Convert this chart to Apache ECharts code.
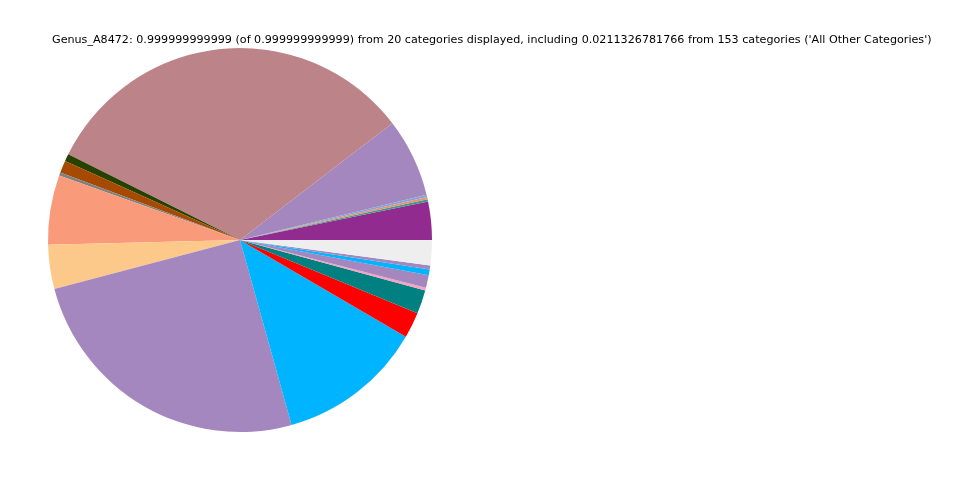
<!DOCTYPE html>
<html>
<head>
<meta charset="utf-8">
<script src="https://cdn.jsdelivr.net/npm/echarts@6/dist/echarts.min.js"></script>
<style>html,body{margin:0;padding:0;background:#fff}#c{width:960px;height:480px}</style>
</head>
<body>
<div id="c"></div>
<script>
const categories = ['Cat_01','Cat_02','Cat_03','Cat_04','Cat_05','Cat_06','Cat_07','Cat_08','Cat_09','Cat_10',
  'Cat_11','Cat_12','Cat_13','Cat_14','Cat_15','Cat_16','Cat_17','Cat_18','Cat_19','All Other Categories'];
const values = [0.0322,0.0019,0.0019,0.0019,0.0661,0.3219,0.0061,0.0103,0.0028,0.0583,
  0.0372,0.2519,0.1226,0.0217,0.0200,0.0022,0.0106,0.0050,0.0033,0.0211326781766];
const colors = ['#922B8F','#3E9A8C','#EE8F6E','#7EA8DA','#A487BE','#BC8389','#274200','#A54A00','#808080','#F99B7B',
  '#FDC98A','#A487BE','#00B4FF','#FF0000','#008080','#F4A3C0','#A487BE','#00B4FF','#A487BE','#EEEEEE'];
const titleText = "Genus_A8472: 0.999999999999 (of 0.999999999999) from 20 categories displayed, including 0.0211326781766 from 153 categories ('All Other Categories')";

const chart = echarts.init(document.getElementById('c'), null, {renderer:'canvas'});
chart.setOption({
  animation: false,
  title: {text: titleText, left: 47, top: 30, textStyle: {fontFamily: 'DejaVu Sans', fontSize: 11.15, fontWeight: 'normal', color: '#000'}},
  series: [{
    type: 'pie',
    center: [240, 240],
    radius: 192,
    startAngle: 0,
    clockwise: false,
    minAngle: 0,
    avoidLabelOverlap: false,
    label: {show: false},
    labelLine: {show: false},
    emphasis: {disabled: true},
    itemStyle: {borderWidth: 0},
    data: categories.map((n, i) => ({name: n, value: values[i], itemStyle: {color: colors[i]}}))
  }]
});
</script>
</body>
</html>
